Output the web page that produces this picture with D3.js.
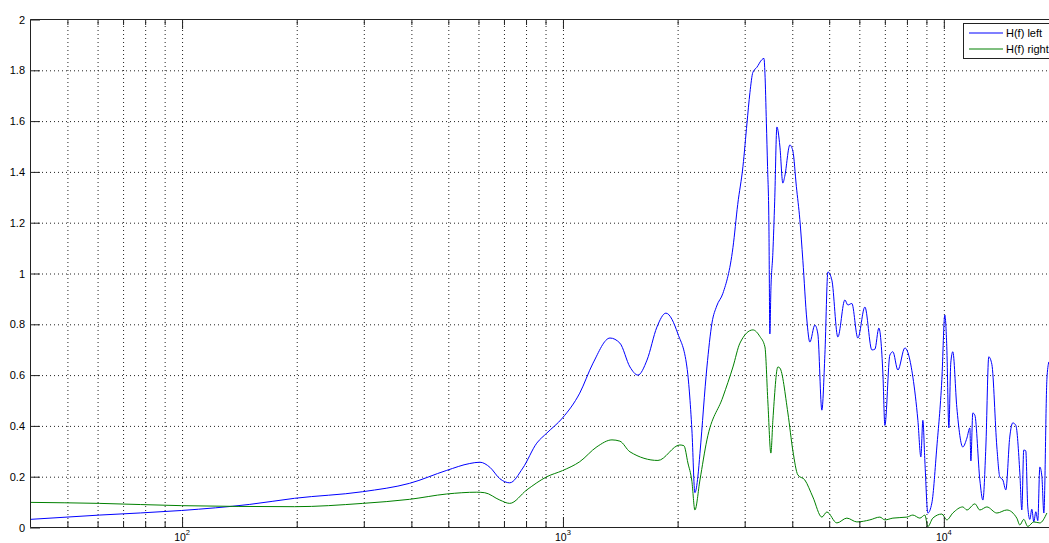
<!DOCTYPE html>
<html>
<head>
<meta charset="utf-8">
<script src="https://cdn.jsdelivr.net/npm/d3@7"></script>
<style>
  body { margin: 0; background: #fff; }
  svg { display: block; }
  text { font-family: "Liberation Sans", Arial, Helvetica, sans-serif; fill: #000; }
</style>
</head>
<body>
<svg id="chart" width="1049" height="543"></svg>
<script>
// Transfer function magnitude |H(f)| for the left and right channels.
const freqLeft = [40, 61, 100, 151, 198, 299, 397, 497, 571, 607, 645, 685, 727, 787, 856, 910, 1000,
  1110, 1203, 1333, 1415, 1504, 1578, 1667, 1770, 1869, 2010, 2122, 2187, 2227, 2268, 2296, 2395, 2469,
  2541, 2638, 2803, 2885, 2978, 3051, 3106, 3162, 3240, 3339, 3380, 3401, 3431, 3455, 3483, 3504, 3525,
  3568, 3607, 3656, 3722, 3790, 3833, 3954, 4027, 4113, 4200, 4277, 4382, 4462, 4599, 4683, 4798, 4887,
  4976, 5097, 5285, 5514, 5614, 5751, 5964, 6223, 6492, 6611, 6772, 6938, 7023, 7238, 7371, 7597, 7925,
  8318, 8574, 8730, 8836, 8943, 9107, 9328, 9614, 9910, 10090, 10210, 10340, 10460, 10590, 10850, 11250,
  11530, 11740, 11810, 11950, 12100, 12470, 12700, 12930, 13160, 13410, 13820, 14070, 14330, 14590,
  14940, 15220, 15500, 15880, 16070, 16260, 16460, 16660, 16870, 17070, 17280, 17490, 17700, 17920,
  18140, 18360, 18700, 18920];
const hLeft = [0.030, 0.047, 0.065, 0.089, 0.113, 0.139, 0.172, 0.223, 0.250, 0.255, 0.235, 0.190, 0.174,
  0.232, 0.330, 0.370, 0.429, 0.527, 0.645, 0.744, 0.724, 0.630, 0.598, 0.657, 0.787, 0.842, 0.760, 0.630,
  0.382, 0.135, 0.200, 0.290, 0.630, 0.803, 0.870, 0.920, 1.100, 1.270, 1.420, 1.590, 1.710, 1.790, 1.810,
  1.840, 1.845, 1.787, 1.590, 1.420, 1.200, 0.760, 0.930, 1.080, 1.280, 1.575, 1.500, 1.354, 1.380, 1.504,
  1.480, 1.340, 1.210, 1.050, 0.815, 0.728, 0.795, 0.760, 0.460, 0.680, 1.004, 0.972, 0.748, 0.894, 0.874,
  0.880, 0.744, 0.866, 0.697, 0.700, 0.783, 0.606, 0.400, 0.677, 0.690, 0.618, 0.705, 0.590, 0.420, 0.276,
  0.420, 0.260, 0.055, 0.094, 0.315, 0.580, 0.835, 0.710, 0.390, 0.646, 0.690, 0.470, 0.315, 0.350, 0.390,
  0.260, 0.449, 0.440, 0.185, 0.106, 0.315, 0.670, 0.640, 0.315, 0.197, 0.185, 0.146, 0.354, 0.410, 0.400,
  0.213, 0.067, 0.303, 0.300, 0.079, 0.030, 0.070, 0.020, 0.060, 0.025, 0.236, 0.200, 0.055, 0.580, 0.650];

const freqRight = [40, 61, 100, 198, 299, 397, 497, 596, 625, 685, 727, 806, 910, 1000, 1110, 1232, 1349,
  1415, 1504, 1781, 2034, 2084, 2135, 2187, 2227, 2296, 2395, 2638, 2803, 2924, 3162, 3299, 3401, 3463,
  3525, 3568, 3678, 3722, 3907, 4027, 4150, 4329, 4544, 4798, 4945, 5254, 5580, 5929, 6414, 6813, 7023,
  7371, 8021, 8318, 8678, 8943, 9107, 9384, 9910, 10210, 10590, 11250, 11530, 12100, 12470, 13010, 13820,
  14680, 15590, 15880, 16260, 16660, 17280, 17920, 18700];
const hRight = [0.097, 0.093, 0.084, 0.080, 0.093, 0.109, 0.130, 0.137, 0.135, 0.106, 0.093, 0.146, 0.198,
  0.222, 0.257, 0.316, 0.343, 0.338, 0.296, 0.262, 0.323, 0.320, 0.252, 0.180, 0.067, 0.185, 0.343, 0.512,
  0.630, 0.724, 0.776, 0.750, 0.709, 0.488, 0.291, 0.420, 0.630, 0.626, 0.449, 0.300, 0.205, 0.185, 0.118,
  0.039, 0.059, 0.016, 0.035, 0.020, 0.028, 0.039, 0.028, 0.035, 0.039, 0.047, 0.035, 0.047, 0.002, 0.035,
  0.051, 0.028, 0.055, 0.079, 0.067, 0.091, 0.067, 0.079, 0.055, 0.067, 0.035, 0.008, 0.030, 0.002, 0.020,
  0.016, 0.055];

const seriesNames = ["H(f) left", "H(f) right"];
const seriesColors = ["#0000ff", "#008000"];
const yTicks = [0, 0.2, 0.4, 0.6, 0.8, 1, 1.2, 1.4, 1.6, 1.8, 2];
const xMajorTicks = [100, 1000, 10000];
const xMinorTicks = [50, 60, 70, 80, 90, 200, 300, 400, 500, 600, 700, 800, 900,
  2000, 3000, 4000, 5000, 6000, 7000, 8000, 9000];

(function draw() {
  // Plot box (the right edge sits just past the visible canvas)
  const pLeft = 30, pTop = 19, pBottom = 527, pRight = 1058;
  const W = 1049, H = 543;
  const plotH = pBottom - pTop, plotW = pRight - pLeft;

  const svg = d3.select("#chart");
  svg.append("rect").attr("width", W).attr("height", H).attr("fill", "#fff");

  const x = d3.scaleLog().domain([40, 20000]).range([pLeft, pRight]);
  const y = d3.scaleLinear().domain([0, 2]).range([pBottom, pTop]);

  // Dotted grid
  const grid = svg.append("g").attr("class", "grid");
  grid.append("g")
    .attr("transform", `translate(0.5,${pBottom})`)
    .call(d3.axisBottom(x).tickValues(xMajorTicks.concat(xMinorTicks)).tickSize(-plotH).tickFormat(""))
    .call(g => g.select(".domain").remove());
  grid.append("g")
    .attr("transform", `translate(${pLeft},0.5)`)
    .call(d3.axisLeft(y).tickValues(yTicks.filter(v => v > 0 && v < 2)).tickSize(-plotW).tickFormat(""))
    .call(g => g.select(".domain").remove());
  grid.selectAll("line")
    .attr("stroke", "#222")
    .attr("stroke-width", 1)
    .attr("stroke-dasharray", "1,3");

  // Curves
  svg.append("clipPath").attr("id", "plotClip")
    .append("rect").attr("x", pLeft).attr("y", pTop).attr("width", plotW).attr("height", plotH);

  const line = d3.line()
    .x(d => x(d[0]))
    .y(d => y(d[1]))
    .curve(d3.curveMonotoneX);

  const series = [d3.zip(freqLeft, hLeft), d3.zip(freqRight, hRight)];

  svg.append("g").attr("clip-path", "url(#plotClip)")
    .selectAll("path")
    .data(series)
    .join("path")
    .attr("d", line)
    .attr("fill", "none")
    .attr("stroke", (d, i) => seriesColors[i])
    .attr("stroke-width", 1)
    .attr("stroke-linejoin", "round");

  // Axes box with inward ticks
  const axisColor = "#222";
  function styleAxis(g) {
    g.selectAll("line").attr("stroke", axisColor);
    g.select(".domain").remove();
  }

  svg.append("g").attr("transform", `translate(0.5,${pBottom})`)
    .call(d3.axisBottom(x).tickValues(xMajorTicks).tickSize(-10).tickFormat(""))
    .call(styleAxis);
  svg.append("g").attr("transform", `translate(0.5,${pBottom})`)
    .call(d3.axisBottom(x).tickValues(xMinorTicks).tickSize(-6).tickFormat(""))
    .call(styleAxis);
  svg.append("g").attr("transform", `translate(0.5,${pTop})`)
    .call(d3.axisTop(x).tickValues(xMajorTicks).tickSize(-10).tickFormat(""))
    .call(styleAxis);
  svg.append("g").attr("transform", `translate(0.5,${pTop})`)
    .call(d3.axisTop(x).tickValues(xMinorTicks).tickSize(-6).tickFormat(""))
    .call(styleAxis);

  svg.append("g").attr("transform", `translate(${pLeft},0.5)`)
    .call(d3.axisLeft(y).tickValues(yTicks).tickSize(-10).tickPadding(5)
      .tickFormat(d => String(+d.toFixed(1))))
    .call(styleAxis)
    .call(g => g.selectAll("text").attr("font-size", 11).attr("fill", "#000")
      .attr("font-family", "'Liberation Sans', Arial, sans-serif"));

  // box outline
  svg.append("path")
    .attr("d", `M${pLeft + 0.5},${pBottom + 0.5}V${pTop + 0.5}H${pRight}M${pLeft + 0.5},${pBottom + 0.5}H${pRight}`)
    .attr("fill", "none")
    .attr("stroke", axisColor)
    .attr("stroke-width", 1);

  // x tick labels as powers of ten
  const xl = svg.append("g").attr("class", "xlabels");
  xMajorTicks.forEach(v => {
    const t = xl.append("text")
      .attr("x", x(v) + 0.5)
      .attr("y", 541)
      .attr("text-anchor", "middle")
      .attr("font-size", 10.5);
    t.append("tspan").text("10");
    t.append("tspan").attr("font-size", 7.5).attr("dy", -6).text(String(Math.round(Math.log10(v))));
  });

  // Legend
  const lg = svg.append("g").attr("transform", "translate(963,23)");
  lg.append("rect")
    .attr("x", 0.5).attr("y", 0.5).attr("width", 100).attr("height", 35)
    .attr("fill", "#fff").attr("stroke", axisColor);
  lg.selectAll("g.entry")
    .data(seriesNames)
    .join("g")
    .attr("class", "entry")
    .attr("transform", (d, i) => `translate(0,${10 + i * 16})`)
    .each(function (name, i) {
      const e = d3.select(this);
      e.append("line").attr("x1", 6).attr("x2", 40).attr("y1", 0).attr("y2", 0)
        .attr("stroke", seriesColors[i]).attr("stroke-width", 1.2);
      e.append("text").attr("x", 43).attr("y", 4).attr("font-size", 11).text(name);
    });
})();
</script>
</body>
</html>
